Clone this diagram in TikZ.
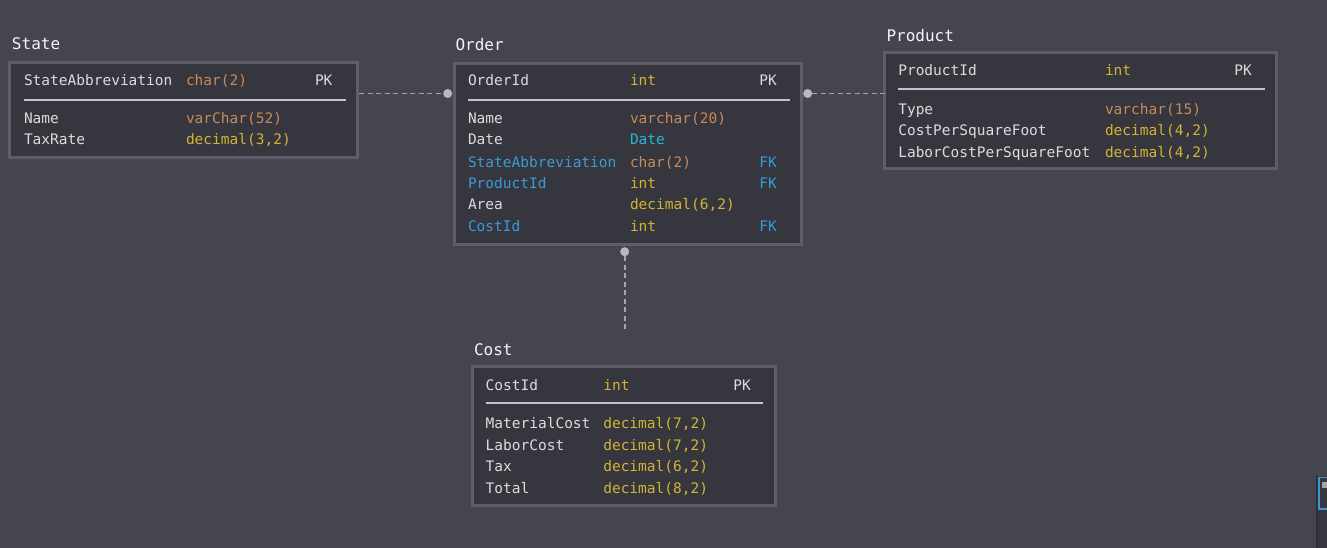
\documentclass[tikz,border=0pt]{standalone}
\usepackage{fontspec}
\newfontfamily\erfont{DejaVu Sans Mono}
\definecolor{bgc}{HTML}{45454F}
\definecolor{boxfill}{HTML}{36363E}
\definecolor{boxline}{HTML}{5E5E68}
\definecolor{txt}{HTML}{DCDCDC}
\definecolor{ttl}{HTML}{F5F5F5}
\definecolor{orng}{HTML}{C98A5A}
\definecolor{yllw}{HTML}{D4B334}
\definecolor{fkblue}{HTML}{3A9BD8}
\definecolor{cyan}{HTML}{26B5D6}
\definecolor{sepc}{HTML}{C4C4C8}
\definecolor{connc}{HTML}{A4A4AE}
\definecolor{dotc}{HTML}{B8B8C4}
\definecolor{darkc}{HTML}{2E2E36}
\tikzset{
  tbl/.style={draw=boxline, line width=3pt, fill=boxfill, rectangle, anchor=north west, inner sep=0pt, outer sep=0pt},
  fld/.style={anchor=base west, inner sep=0pt, outer sep=0pt, font=\erfont\fontsize{14.5}{16}\selectfont},
  title/.style={anchor=base west, inner sep=0pt, outer sep=0pt, text=ttl, font=\erfont\fontsize{16}{18}\selectfont},
  sepline/.style={draw=sepc, line width=2pt},
  conn/.style={draw=connc, line width=1.6pt, dash pattern=on 5pt off 3.5pt},
  dotnode/.style={circle, fill=dotc, inner sep=0pt, minimum size=9pt, outer sep=0pt},
}
\newcommand\erow[8]{%
  \node[fld,text=#5] (#1-n) at (#3,#2) {#6};
  \node[fld,text=#7] (#1-t) at (#4,#2) {#8};}
\begin{document}
\begin{tikzpicture}[x=1pt,y=-1pt]
\useasboundingbox (0,0) rectangle (1327,548);
\fill[bgc] (0,0) rectangle (1327,548);

% ---------- State ----------
\node[title] (state-title) at (12,50) {State};
\node[tbl, minimum width=348pt, minimum height=95pt] (state) at (9.5,62.5) {};
\erow{s1}{85.7}{24}{186}{txt}{StateAbbreviation}{orng}{char(2)}
\node[fld,text=txt] (s1-k) at (315,85.7) {PK};
\draw[sepline] (24,100) -- (346,100);
\erow{s2}{123.3}{24}{186}{txt}{Name}{orng}{varChar(52)}
\erow{s3}{145}{24}{186}{txt}{TaxRate}{yllw}{decimal(3,2)}

% ---------- Order ----------
\node[title] (order-title) at (455.5,50.5) {Order};
\node[tbl, minimum width=347pt, minimum height=181pt] (order) at (454.5,63.5) {};
\erow{o1}{85.7}{468}{630}{txt}{OrderId}{yllw}{int}
\node[fld,text=txt] (o1-k) at (759.3,85.7) {PK};
\draw[sepline] (468,100) -- (789.7,100);
\erow{o2}{123.3}{468}{630}{txt}{Name}{orng}{varchar(20)}
\erow{o3}{145}{468}{630}{txt}{Date}{cyan}{Date}
\erow{o4}{167.7}{468}{630}{fkblue}{StateAbbreviation}{orng}{char(2)}
\node[fld,text=fkblue] (o4-k) at (759.3,167.7) {FK};
\erow{o5}{188.7}{468}{630}{fkblue}{ProductId}{yllw}{int}
\node[fld,text=fkblue] (o5-k) at (759.3,188.7) {FK};
\erow{o6}{210}{468}{630}{txt}{Area}{yllw}{decimal(6,2)}
\erow{o7}{231.7}{468}{630}{fkblue}{CostId}{yllw}{int}
\node[fld,text=fkblue] (o7-k) at (759.3,231.7) {FK};

% ---------- Product ----------
\node[title] (product-title) at (886.5,41.5) {Product};
\node[tbl, minimum width=392pt, minimum height=116pt] (product) at (884.5,52.5) {};
\erow{p1}{75.7}{898.3}{1105}{txt}{ProductId}{yllw}{int}
\node[fld,text=txt] (p1-k) at (1234.3,75.7) {PK};
\draw[sepline] (898.3,89) -- (1265,89);
\erow{p2}{114.3}{898.3}{1105}{txt}{Type}{orng}{varchar(15)}
\erow{p3}{135.3}{898.3}{1105}{txt}{CostPerSquareFoot}{yllw}{decimal(4,2)}
\erow{p4}{157.3}{898.3}{1105}{txt}{LaborCostPerSquareFoot}{yllw}{decimal(4,2)}

% ---------- Cost ----------
\node[title] (cost-title) at (474,355) {Cost};
\node[tbl, minimum width=303pt, minimum height=139pt] (cost) at (472.5,366.5) {};
\erow{c1}{390}{485.7}{603.3}{txt}{CostId}{yllw}{int}
\node[fld,text=txt] (c1-k) at (733.3,390) {PK};
\draw[sepline] (485.7,403.3) -- (762.7,403.3);
\erow{c2}{428.3}{485.7}{603.3}{txt}{MaterialCost}{yllw}{decimal(7,2)}
\erow{c3}{450}{485.7}{603.3}{txt}{LaborCost}{yllw}{decimal(7,2)}
\erow{c4}{471.7}{485.7}{603.3}{txt}{Tax}{yllw}{decimal(6,2)}
\erow{c5}{493.3}{485.7}{603.3}{txt}{Total}{yllw}{decimal(8,2)}

% ---------- Connectors ----------
\node[dotnode] (dso) at (447.7,93.5) {};
\draw[conn] (state.east |- dso) ++(1.5,0) -- (dso);
\node[dotnode] (dop) at (807.7,93.5) {};
\draw[conn] (dop) -- (product.west |- dop);
\node[dotnode] (doc) at (624.7,251.7) {};
\coordinate (cend) at (624.7,331.7);
\draw[conn] (doc) -- (cend);

% ---------- corner artifact ----------
\fill[darkc] (1316,476) rectangle (1318,548);
\fill[boxfill] (1318,476) rectangle (1327,548);
\draw[fkblue, line width=1.5pt] (1327.5,477.5) -- (1319.2,477.5) -- (1319.2,509) -- (1327.5,509);
\fill[gray!70] (1321.7,481.7) rectangle (1327,487.7);
\end{tikzpicture}
\end{document}
